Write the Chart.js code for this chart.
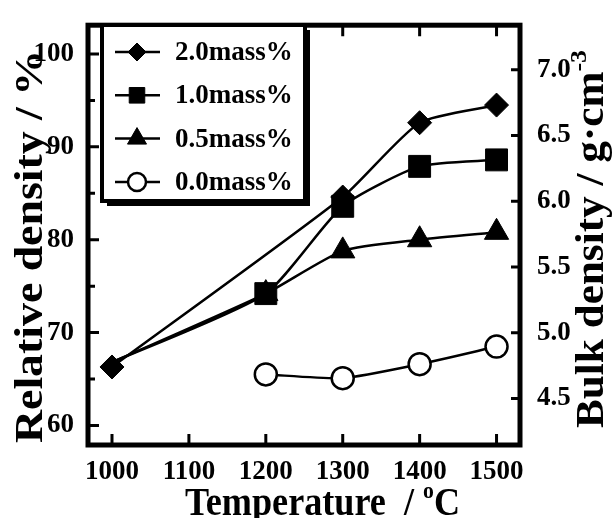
<!DOCTYPE html>
<html>
<head>
<meta charset="utf-8">
<script src="https://cdn.jsdelivr.net/npm/chart.js@4.4.1/dist/chart.umd.min.js"></script>
<style>
  html, body { margin: 0; padding: 0; background: #fff; }
  #wrap { width: 613px; height: 518px; }
</style>
</head>
<body>
<div id="wrap"><canvas id="densityChart" width="613" height="518"></canvas></div>
<script>
// values (relative density, %)
const temperatures = [1000, 1200, 1300, 1400, 1500];
const mass20 = [66.3, null, 84.6, 92.6, 94.5];
const mass10 = [66.8, 74.2, 83.6, 87.9, 88.6];
const mass05 = [66.8, 74.2, 78.8, 80.0, 80.8];
const mass00 = [null, 65.5, 65.1, 66.6, 68.5];
const seriesLabels = ["2.0mass%", "1.0mass%", "0.5mass%", "0.0mass%"];

const xTicks = [1000, 1100, 1200, 1300, 1400, 1500];
const leftTicks = [60, 70, 80, 90, 100];
const leftMinorTicks = [65, 75, 85, 95];
const rightTicks = [4.5, 5.0, 5.5, 6.0, 6.5, 7.0];

const family = "'Liberation Serif', 'Times New Roman', serif";
const tickFont = { family: family, size: 27, weight: "bold" };

function toPoints(values) {
  return temperatures
    .map((t, i) => ({ x: t, y: values[i] }))
    .filter((p) => p.y !== null);
}

// the 1.0 / 0.5 series start under the diamond at 1000
const hideAt1000 = (r) => (c) => (c.raw && c.raw.x === 1000 ? 0 : r);

function drawTitle(ctx, parts, x, y, angle, size, length) {
  const mainFont = `bold ${size}px ${family}`;
  const supFont = `bold ${Math.round(size * 0.6)}px ${family}`;
  ctx.save();
  let total = 0;
  parts.forEach((p) => {
    ctx.font = p.sup ? supFont : mainFont;
    p.w = ctx.measureText(p.text).width;
    total += p.w;
  });
  ctx.translate(x, y);
  ctx.rotate(angle);
  ctx.scale(length / total, 1);
  ctx.fillStyle = "#000";
  ctx.textAlign = "left";
  ctx.textBaseline = "alphabetic";
  let cx = 0;
  parts.forEach((p) => {
    ctx.font = p.sup ? supFont : mainFont;
    ctx.fillText(p.text, cx, p.sup ? -size * 0.42 : 0);
    cx += p.w;
  });
  ctx.restore();
}

const frameAndTicks = {
  id: "frameAndTicks",
  afterDatasetsDraw(chart) {
    const ctx = chart.ctx;
    const a = chart.chartArea;
    const xs = chart.scales.x;
    const ys = chart.scales.y;
    const y2 = chart.scales.y2;
    ctx.save();
    ctx.strokeStyle = "#000";
    ctx.lineCap = "butt";
    ctx.lineWidth = 3;
    ctx.beginPath();
    xTicks.forEach((v) => {
      const px = xs.getPixelForValue(v);
      ctx.moveTo(px, a.bottom); ctx.lineTo(px, a.bottom - 11);
      ctx.moveTo(px, a.top); ctx.lineTo(px, a.top + 11);
    });
    leftTicks.forEach((v) => {
      const py = ys.getPixelForValue(v);
      ctx.moveTo(a.left, py); ctx.lineTo(a.left + 11, py);
    });
    leftMinorTicks.forEach((v) => {
      const py = ys.getPixelForValue(v);
      ctx.moveTo(a.left, py); ctx.lineTo(a.left + 7, py);
    });
    rightTicks.forEach((v) => {
      const py = y2.getPixelForValue(v);
      ctx.moveTo(a.right, py); ctx.lineTo(a.right - 9, py);
    });
    ctx.stroke();
    ctx.lineWidth = 5;
    ctx.strokeRect(a.left, a.top, a.right - a.left, a.bottom - a.top);
    ctx.restore();
  },
  afterDraw(chart) {
    const ctx = chart.ctx;
    // axis titles
    drawTitle(ctx, [{ text: "Temperature  / " }, { text: "o", sup: true }, { text: "C" }],
      185, 515, 0, 40, 275);
    drawTitle(ctx, [{ text: "Relative density / %" }], 42, 443, -Math.PI / 2, 39, 393);
    drawTitle(ctx, [{ text: "Bulk density / g\u00b7cm" }, { text: "-3", sup: true }],
      603, 428, -Math.PI / 2, 40, 378);

    // legend box with drop shadow
    const bx = 102, by = 25, bw = 203, bh = 176;
    ctx.save();
    ctx.fillStyle = "#000";
    ctx.fillRect(bx + 5, by + 5, bw, bh);
    ctx.fillStyle = "#fff";
    ctx.fillRect(bx, by, bw, bh);
    ctx.lineWidth = 4;
    ctx.strokeStyle = "#000";
    ctx.strokeRect(bx, by, bw, bh);
    chart.data.datasets.forEach((ds, i) => {
      const ry = 52 + i * 43.3;
      ctx.lineWidth = 2.5;
      ctx.strokeStyle = "#000";
      ctx.beginPath();
      ctx.moveTo(115, ry); ctx.lineTo(160, ry);
      ctx.stroke();
      ctx.fillStyle = ds.pointBackgroundColor;
      ctx.lineWidth = ds.pointBorderWidth;
      Chart.helpers.drawPoint(ctx, {
        pointStyle: ds.pointStyle,
        radius: ds.legendRadius,
        rotation: 0,
        borderWidth: ds.pointBorderWidth
      }, 137, ry);
      ctx.fillStyle = "#000";
      ctx.font = `bold 27px ${family}`;
      ctx.textAlign = "left";
      ctx.textBaseline = "middle";
      ctx.fillText(ds.label, 175, ry + 1);
    });
    ctx.restore();
  }
};

const lineBase = {
  borderColor: "#000",
  borderWidth: 2.5,
  pointBorderColor: "#000",
  tension: 0.2,
  spanGaps: true
};

new Chart(document.getElementById("densityChart"), {
  type: "line",
  data: {
    datasets: [
      Object.assign({}, lineBase, {
        label: seriesLabels[0], data: toPoints(mass20),
        pointStyle: "rectRot", pointRadius: 12, legendRadius: 9,
        pointBackgroundColor: "#000", pointBorderWidth: 1
      }),
      Object.assign({}, lineBase, {
        label: seriesLabels[1], data: toPoints(mass10),
        pointStyle: "rect", pointRadius: hideAt1000(15.5), legendRadius: 11,
        pointBackgroundColor: "#000", pointBorderWidth: 1
      }),
      Object.assign({}, lineBase, {
        label: seriesLabels[2], data: toPoints(mass05),
        pointStyle: "triangle", pointRadius: hideAt1000(14), legendRadius: 11,
        pointBackgroundColor: "#000", pointBorderWidth: 1
      }),
      Object.assign({}, lineBase, {
        label: seriesLabels[3], data: toPoints(mass00),
        pointStyle: "circle", pointRadius: 11, legendRadius: 9,
        pointBackgroundColor: "#fff", pointBorderWidth: 2.5
      })
    ]
  },
  options: {
    responsive: false,
    animation: false,
    layout: { padding: { top: 12, left: 0, right: 0, bottom: 0 } },
    plugins: { legend: { display: false }, tooltip: { enabled: false } },
    scales: {
      x: {
        type: "linear",
        min: 968.8,
        max: 1530.5,
        grid: { display: false },
        border: { display: false },
        afterBuildTicks: (s) => { s.ticks = xTicks.map((v) => ({ value: v })); },
        afterFit: (s) => { s.height = 73; },
        ticks: { font: tickFont, color: "#000", padding: 3, maxRotation: 0, callback: (v) => String(v) }
      },
      y: {
        position: "left",
        min: 57.9,
        max: 103.1,
        grid: { display: false },
        border: { display: false },
        afterBuildTicks: (s) => { s.ticks = leftTicks.map((v) => ({ value: v })); },
        afterFit: (s) => { s.width = 88; },
        ticks: { font: tickFont, color: "#000", padding: 6, callback: (v) => String(v) }
      },
      y2: {
        position: "right",
        min: 4.146,
        max: 7.339,
        grid: { display: false },
        border: { display: false },
        afterBuildTicks: (s) => { s.ticks = rightTicks.map((v) => ({ value: v })); },
        afterFit: (s) => { s.width = 93; },
        ticks: { font: tickFont, color: "#000", padding: 9, callback: (v) => v.toFixed(1) }
      }
    }
  },
  plugins: [frameAndTicks]
});
</script>
</body>
</html>
